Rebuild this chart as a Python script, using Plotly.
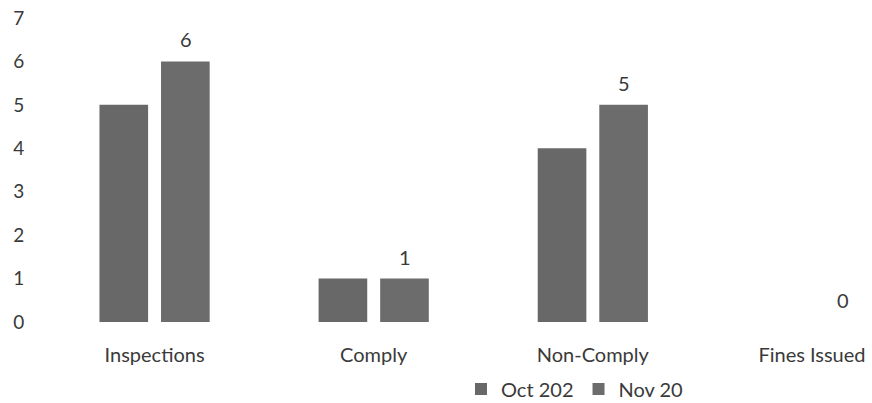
import plotly.graph_objects as go

categories = ["Inspections", "Comply", "Non-Comply", "Fines Issued"]
oct_values = [5, 1, 4, 0]
nov_values = [6, 1, 5, 0]
series_names = ["Oct 202", "Nov 20"]
y_ticks = [0, 1, 2, 3, 4, 5, 6, 7]

FONT = "Lato"
TXT = "#3a3a3a"

fig = go.Figure()
fig.add_trace(go.Bar(x=categories, y=oct_values, name=series_names[0],
                     marker=dict(color="#686868", line=dict(width=0))))
fig.add_trace(go.Bar(x=categories, y=nov_values, name=series_names[1],
                     marker=dict(color="#6c6c6c", line=dict(width=0))))

for c, v in zip(categories, nov_values):
    fig.add_annotation(x=c, y=v, text=str(v), showarrow=False, xshift=31, yshift=22,
                       font=dict(family=FONT, size=20, color=TXT))

fig.update_layout(
    width=872, height=403,
    margin=dict(l=45, r=0, t=18, b=81, autoexpand=False),
    paper_bgcolor="white", plot_bgcolor="white",
    barmode="group", bargap=0.438, bargroupgap=0.21,
    font=dict(family=FONT, size=20, color=TXT),
    showlegend=True,
    hovermode=False,
    legend=dict(orientation="h", x=0.503, xanchor="left", y=-0.22, yanchor="middle",
                font=dict(family=FONT, size=20, color=TXT),
                traceorder="normal"),
    xaxis=dict(type="category", range=[-0.5, 3.274], showgrid=False, showline=False,
               zeroline=False, ticks="outside", ticklen=15, tickcolor="rgba(0,0,0,0)",
               ticklabeloverflow="allow",
               tickfont=dict(family=FONT, size=20, color=TXT)),
    yaxis=dict(range=[0, 7], tickvals=y_ticks, showgrid=False, showline=False,
               zeroline=False, ticks="outside", ticklen=16, tickcolor="rgba(0,0,0,0)",
               ticklabeloverflow="allow",
               tickfont=dict(family=FONT, size=19, color=TXT)),
)

fig.write_html("out.html", config={"displayModeBar": False},
               post_script="document.body.style.margin='0';document.body.style.overflow='hidden';")
